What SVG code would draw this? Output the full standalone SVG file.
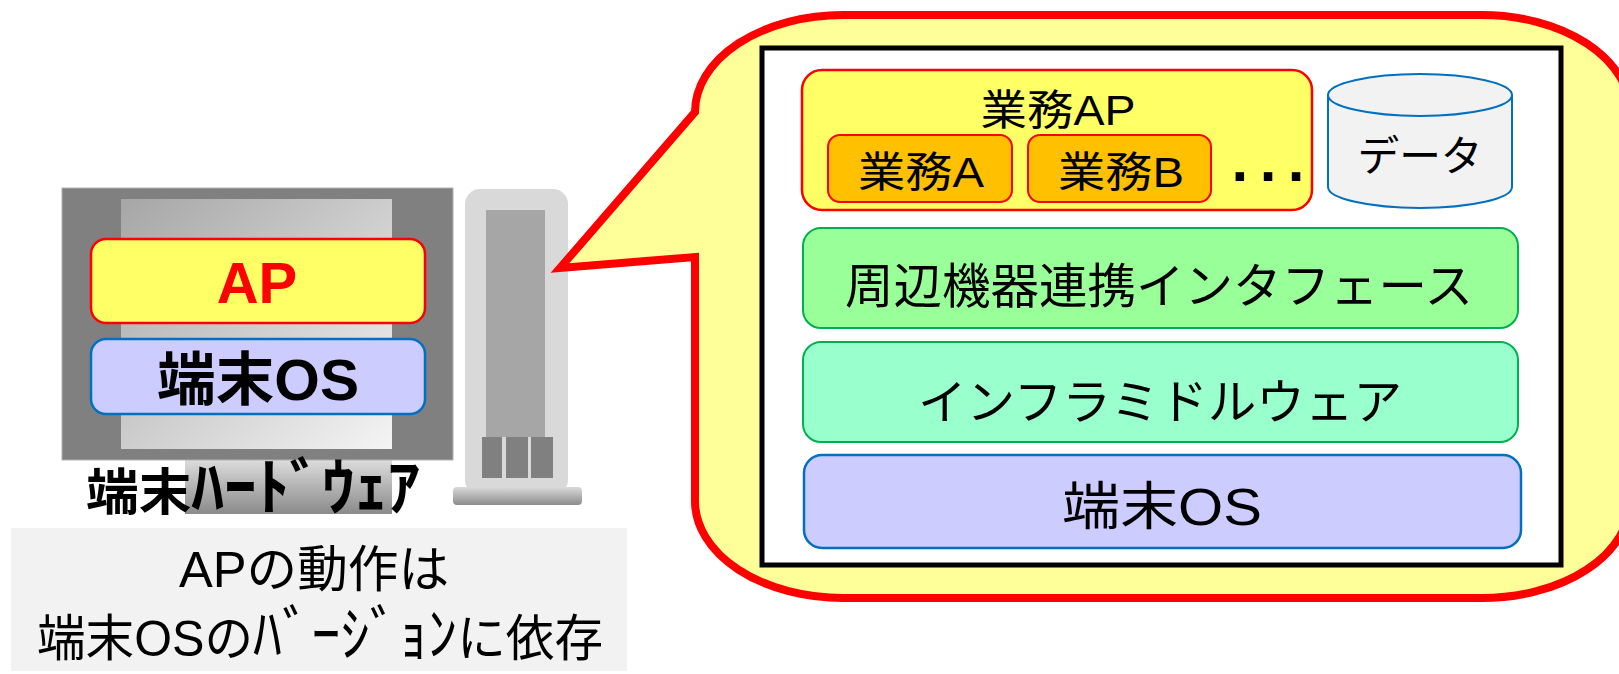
<svg xmlns="http://www.w3.org/2000/svg" width="1619" height="674" viewBox="0 0 1619 674">
  <defs>
    <linearGradient id="screenGrad" x1="0" y1="0" x2="1" y2="1">
      <stop offset="0" stop-color="#a6a6a6"/>
      <stop offset="1" stop-color="#f4f4f4"/>
    </linearGradient>
    <linearGradient id="standGrad" x1="0" y1="0" x2="0" y2="1">
      <stop offset="0" stop-color="#dcdcdc"/>
      <stop offset="1" stop-color="#8a8a8a"/>
    </linearGradient>
    <linearGradient id="baseGrad" x1="0" y1="0" x2="0" y2="1">
      <stop offset="0" stop-color="#dadada"/>
      <stop offset="1" stop-color="#8c8c8c"/>
    </linearGradient>
  </defs>
  <style>
    text { font-family: "Liberation Sans", "Noto Sans CJK JP", sans-serif; text-anchor: middle; fill: #000; }
    .bold { font-weight: bold; }
    .ap { fill: #ffff66; stroke: #ff0000; stroke-width: 2.5; }
    .os { fill: #ccccff; stroke: #0070c0; stroke-width: 2.5; }
    .task { fill: #ffc000; stroke: #ff0000; stroke-width: 2; }
    .iface { fill: #99ff99; stroke: #00b050; stroke-width: 2; }
    .mw { fill: #99ffcc; stroke: #00b050; stroke-width: 2; }
  </style>

  <!-- terminal hardware: monitor -->
  <g id="monitor">
    <rect x="185" y="460" width="207" height="54" fill="url(#standGrad)"/>
    <rect x="62" y="188" width="391" height="272" fill="#808080" stroke="#b0b0b0" stroke-width="1"/>
    <rect x="121" y="199" width="271" height="250" fill="url(#screenGrad)"/>
  </g>

  <g id="monitor-ap">
    <rect class="ap" x="91" y="239" width="334" height="84" rx="15"/>
    <text class="bold" x="257" y="303" font-size="58" style="fill:#ff0000">AP</text>
  </g>

  <g id="monitor-os">
    <rect class="os" x="91" y="339" width="334" height="75" rx="15"/>
    <text class="bold" x="258" y="400" font-size="58" textLength="202" lengthAdjust="spacingAndGlyphs">端末OS</text>
  </g>

  <g id="hardware-label">
    <text class="bold" x="253" y="510" font-size="50" textLength="334" lengthAdjust="spacingAndGlyphs">端末<tspan font-size="62">ﾊｰﾄﾞｳｪｱ</tspan></text>
  </g>

  <!-- terminal hardware: tower -->
  <g id="tower">
    <rect x="465" y="189" width="103" height="306" rx="15" fill="#d9d9d9"/>
    <rect x="486" y="210" width="59" height="227" fill="#a6a6a6"/>
    <rect x="482" y="437" width="20" height="41" fill="#808080"/>
    <rect x="506" y="437" width="22" height="41" fill="#808080"/>
    <rect x="531" y="437" width="22" height="41" fill="#808080"/>
    <rect x="453" y="487" width="129" height="18" rx="4" fill="url(#baseGrad)"/>
  </g>

  <!-- note under the hardware -->
  <g id="note">
    <rect x="11" y="528" width="616" height="143" fill="#f2f2f2"/>
    <text x="314" y="587" font-size="50" textLength="270" lengthAdjust="spacingAndGlyphs">APの動作は</text>
    <text x="320" y="656" font-size="50" textLength="566" lengthAdjust="spacingAndGlyphs">端末OSの<tspan font-size="60">ﾊﾞｰｼﾞｮﾝ</tspan>に依存</text>
  </g>

  <!-- callout balloon pointing at the tower -->
  <g id="callout">
    <path d="M 843,15 L 1482,15 A 148 97 0 0 1 1630,112 L 1630,501 A 148 97 0 0 1 1482,598 L 843,598 A 148 97 0 0 1 695,501 L 695,257 L 560,268 L 695,112 A 148 97 0 0 1 843,15 Z" fill="#ffff99" stroke="#ff0000" stroke-width="8" stroke-linejoin="miter"/>
    <rect x="762" y="48" width="799" height="517" fill="#ffffff" stroke="#000000" stroke-width="5"/>
  </g>

  <!-- software stack -->
  <g id="business-ap">
    <rect class="ap" x="802" y="70" width="510" height="140" rx="20" stroke-width="2"/>
    <text x="1058" y="125" font-size="42" textLength="155" lengthAdjust="spacingAndGlyphs">業務AP</text>
  </g>

  <g id="task-a">
    <rect class="task" x="828" y="135" width="184" height="67" rx="12"/>
    <text x="921" y="187" font-size="42" textLength="126" lengthAdjust="spacingAndGlyphs">業務A</text>
  </g>

  <g id="task-b">
    <rect class="task" x="1028" y="135" width="183" height="67" rx="12"/>
    <text x="1121" y="187" font-size="42" textLength="126" lengthAdjust="spacingAndGlyphs">業務B</text>
  </g>

  <g id="task-more">
    <text class="bold" x="1268" y="181" font-size="60" textLength="73" lengthAdjust="spacing">...</text>
  </g>

  <g id="data">
    <path d="M 1328,95 L 1328,187 A 92 21 0 0 0 1512,187 L 1512,95" fill="#f2f2f2" stroke="#0070c0" stroke-width="2"/>
    <ellipse cx="1420" cy="95" rx="92" ry="21" fill="#f2f2f2" stroke="#0070c0" stroke-width="2"/>
    <text x="1420" y="171" font-size="42" textLength="125" lengthAdjust="spacingAndGlyphs">データ</text>
  </g>

  <g id="peripheral-if">
    <rect class="iface" x="803" y="228" width="715" height="100" rx="18"/>
    <text x="1159" y="303" font-size="48" textLength="628" lengthAdjust="spacingAndGlyphs">周辺機器連携インタフェース</text>
  </g>

  <g id="middleware">
    <rect class="mw" x="803" y="342" width="715" height="100" rx="18"/>
    <text x="1160" y="419" font-size="48" textLength="484" lengthAdjust="spacingAndGlyphs">インフラミドルウェア</text>
  </g>

  <g id="terminal-os">
    <rect class="os" x="804" y="455" width="717" height="93" rx="18"/>
    <text x="1162" y="525" font-size="52" textLength="200" lengthAdjust="spacingAndGlyphs">端末OS</text>
  </g>
</svg>
